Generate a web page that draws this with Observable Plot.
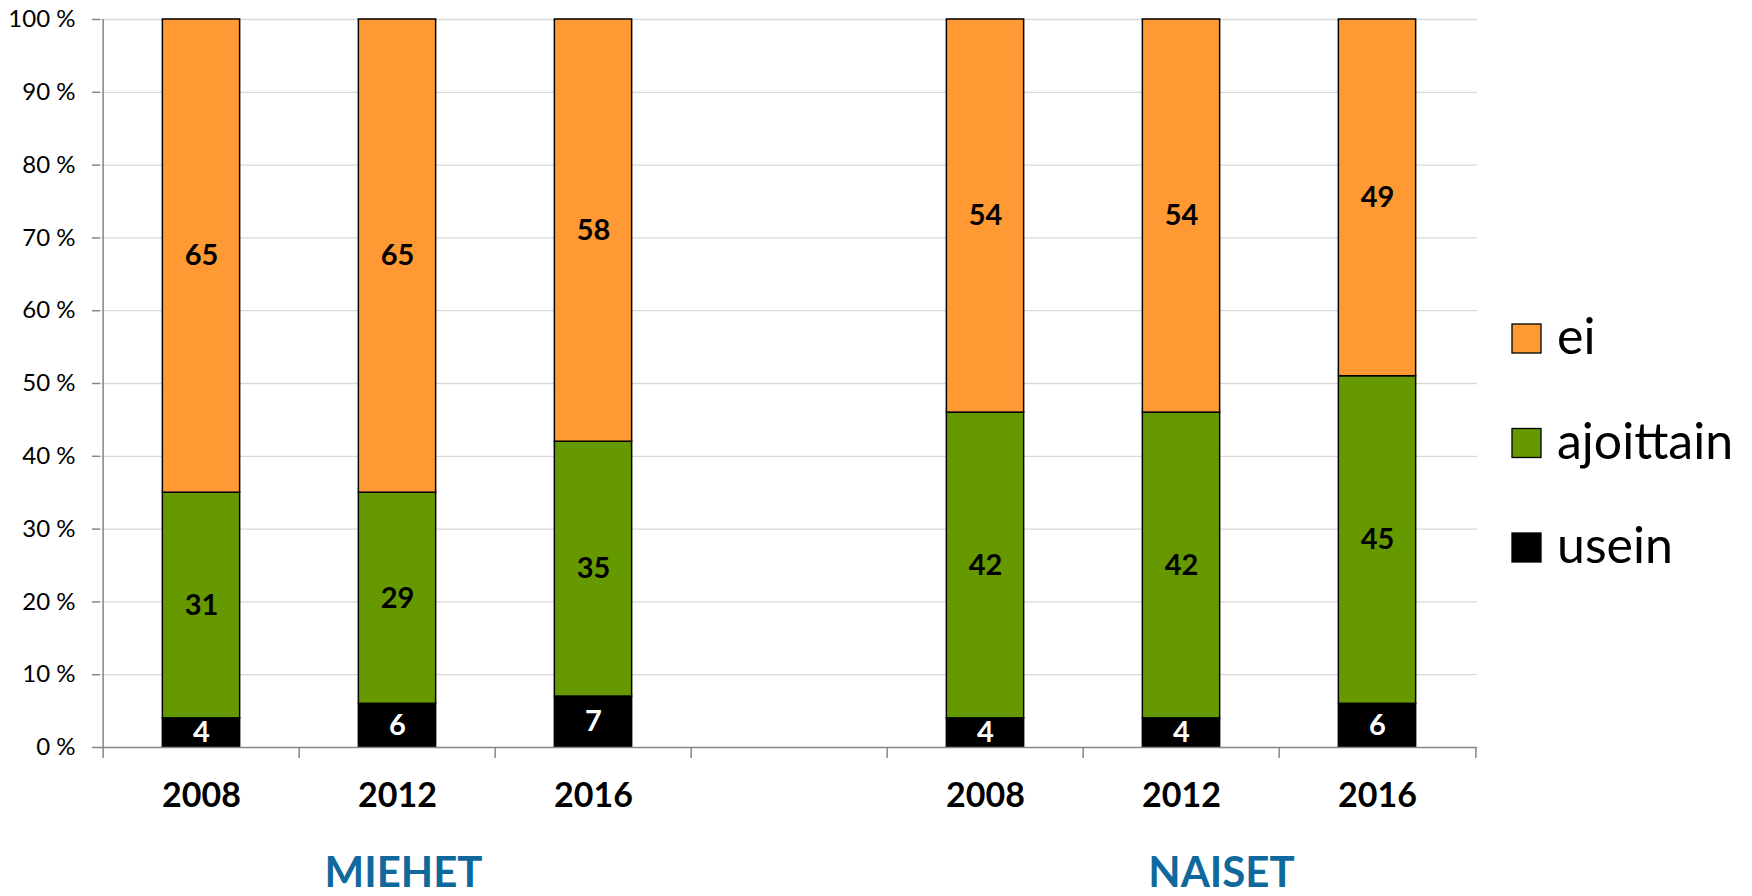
<!DOCTYPE html>
<html>
<head>
<meta charset="utf-8">
<script src="https://cdn.jsdelivr.net/npm/d3@7"></script>
<script src="https://cdn.jsdelivr.net/npm/@observablehq/plot@0.6"></script>
<style>
  body { margin: 0; background: #fff; }
  #wrap { position: relative; width: 1752px; height: 896px; font-family: Lato, sans-serif; }
  #legend { position: absolute; left: 0; top: 0; pointer-events: none; }
</style>
</head>
<body>
<div id="wrap"></div>
<script>
// ---- data ----
const groups = ["MIEHET", "NAISET"];
const years = ["2008", "2012", "2016"];
const series = ["usein", "ajoittain", "ei"];
const seriesColors = ["#000000", "#669900", "#FF9933"];
const usein = [4, 6, 7, 4, 4, 6];
const ajoittain = [31, 29, 35, 42, 42, 45];
const ei = [65, 65, 58, 54, 54, 49];
const yTicks = [0, 10, 20, 30, 40, 50, 60, 70, 80, 90, 100];

// ---- build table ----
const categories = [...years.map(y => groups[0] + " " + y), "gap", ...years.map(y => groups[1] + " " + y)];
const barCats = categories.filter(c => c !== "gap");
const valuesBySeries = {usein, ajoittain, ei};
const data = [];
barCats.forEach((c, i) => series.forEach(s => data.push({category: c, series: s, value: valuesBySeries[s][i]})));
const yearOf = c => c === "gap" ? "" : c.split(" ")[1];

// ---- layout ----
const W = 1752, H = 896;
const ml = 100, mr = 275, mt = 19, mb = 149;
const step = (W - ml - mr) / categories.length;
const barW = 78;
const inset = (step - barW) / 2;
const axisGray = "#868686";

const chart = Plot.plot({
  width: W,
  height: H,
  marginLeft: ml,
  marginRight: mr,
  marginTop: mt,
  marginBottom: mb,
  style: {fontFamily: "Lato, sans-serif", background: "white", color: "black"},
  x: {type: "band", domain: categories, padding: 0, label: null},
  y: {domain: [0, 100], label: null},
  color: {domain: series, range: seriesColors},
  marks: [
    Plot.ruleY(yTicks.filter(t => t > 0), {y: d => d, stroke: "#d9d9d9", strokeWidth: 1.3}),
    Plot.barY(data, Plot.stackY({
      x: "category", y: "value", z: "series", fill: "series", order: series,
      stroke: "black", strokeWidth: 1.5, insetLeft: inset, insetRight: inset
    })),
    Plot.text(data, Plot.stackY({
      x: "category", y: "value", z: "series", order: series,
      text: d => d.series === "usein" ? null : String(d.value),
      fill: "black", fontSize: 29, fontWeight: "bold"
    })),
    Plot.text(data, Plot.stackY({
      x: "category", y: "value", z: "series", order: series,
      text: d => d.series === "usein" ? String(d.value) : null,
      fill: "white", fontSize: 29, fontWeight: "bold"
    })),
    Plot.ruleY([0], {stroke: axisGray, strokeWidth: 1.5}),
    Plot.ruleX([categories[0]], {x: d => d, dx: -step / 2, stroke: axisGray, strokeWidth: 1.5}),
    Plot.axisY({
      ticks: yTicks, tickFormat: d => d + " %", tickSize: 8, tickPadding: 17, label: null,
      fontSize: 24, stroke: axisGray, fill: "black", strokeWidth: 1.5
    }),
    Plot.axisX({ticks: categories, tickSize: 11, dx: -step / 2, tickFormat: () => "", label: null, stroke: axisGray, strokeWidth: 1.5}),
    Plot.axisX({ticks: [categories[categories.length - 1]], tickSize: 11, dx: step / 2, tickFormat: () => "", label: null, stroke: axisGray, strokeWidth: 1.5}),
    Plot.text(categories, {
      x: d => d, text: yearOf, frameAnchor: "bottom", lineAnchor: "middle", dy: 49,
      fontSize: 34, fontWeight: "bold", fill: "black"
    }),
    Plot.text([groups[0]], {
      x: () => groups[0] + " " + years[1], text: d => d, frameAnchor: "bottom", lineAnchor: "middle", dy: 126, dx: 6,
      fontSize: 42, fontWeight: "bold", fill: "#10699D", letterSpacing: 4.5
    }),
    Plot.text([groups[1]], {
      x: () => groups[1] + " " + years[1], text: d => d, frameAnchor: "bottom", lineAnchor: "middle", dy: 126, dx: 40,
      fontSize: 42, fontWeight: "bold", fill: "#10699D", letterSpacing: 4.5
    })
  ]
});

const wrap = document.getElementById("wrap");
wrap.appendChild(chart);

// ---- legend (top item first: ei, ajoittain, usein) ----
const legendItems = series.map((s, i) => ({name: s, color: seriesColors[i]})).reverse();
const legend = d3.select(wrap).append("svg")
  .attr("id", "legend")
  .attr("width", W).attr("height", H);
const lg = legend.selectAll("g").data(legendItems).join("g")
  .attr("transform", (d, i) => `translate(1512, ${339 + i * 104.5})`);
lg.append("rect")
  .attr("x", 0).attr("y", -15).attr("width", 29).attr("height", 29)
  .attr("fill", d => d.color).attr("stroke", "black").attr("stroke-width", 1.3);
lg.append("text")
  .attr("x", 45).attr("y", 15)
  .attr("font-family", "Lato, sans-serif").attr("font-size", 50)
  .attr("fill", "black")
  .text(d => d.name);
</script>
</body>
</html>
